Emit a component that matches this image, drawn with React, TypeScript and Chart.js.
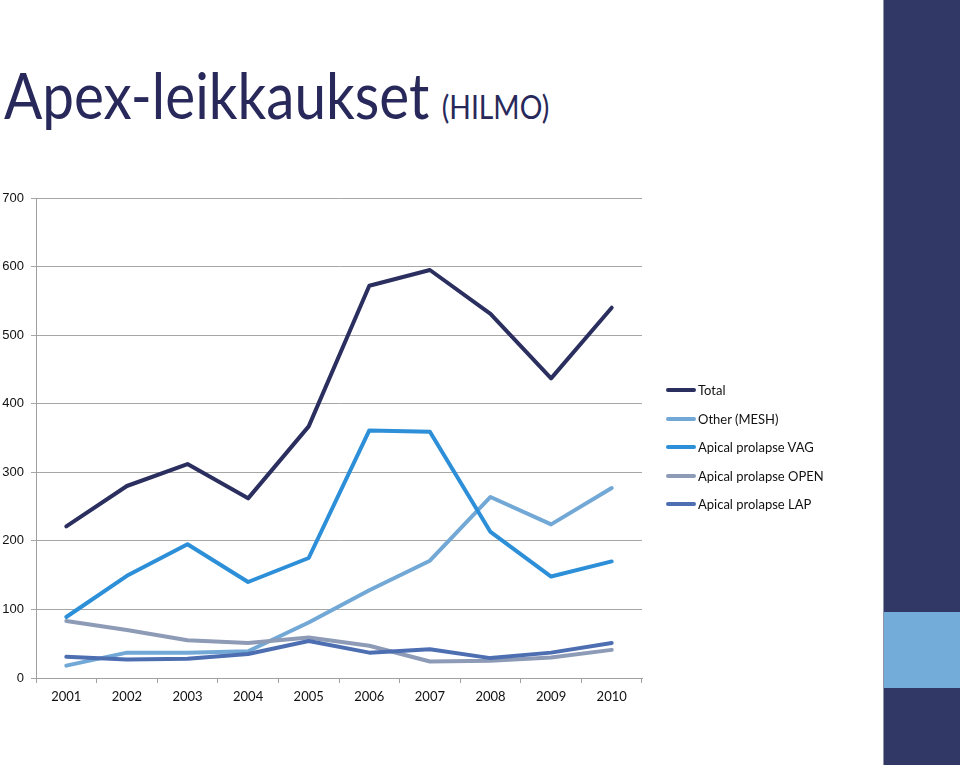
import React, { useEffect, useRef } from "react";
import { Chart, registerables } from "chart.js";

Chart.register(...registerables);

const years = ["2001", "2002", "2003", "2004", "2005", "2006", "2007", "2008", "2009", "2010"];
const total = [221, 280, 312, 262, 367, 572, 595, 531, 437, 540];
const otherMesh = [18, 37, 37, 39, 81, 128, 171, 264, 224, 277];
const apicalVag = [89, 149, 195, 140, 175, 361, 359, 213, 148, 170];
const apicalOpen = [83, 70, 55, 51, 59, 47, 24, 25, 30, 41];
const apicalLap = [31, 27, 28, 35, 54, 37, 42, 29, 37, 51];

const seriesNames = ["Total", "Other (MESH)", "Apical prolapse VAG", "Apical prolapse OPEN", "Apical prolapse LAP"];
const seriesColors = ["#2b2f5f", "#72a8d6", "#2c8fd8", "#8d9bb7", "#4d6fb2"];
const seriesData = [total, otherMesh, apicalVag, apicalOpen, apicalLap];

const yMin = 0;
const yMax = 700;
const yStep = 100;

const titleMain = "Apex-leikkaukset";
const titleSub = "(HILMO)";

export default function App() {
  const canvasRef = useRef<HTMLCanvasElement | null>(null);

  useEffect(() => {
    const canvas = canvasRef.current;
    if (!canvas) return;
    const chart = new Chart(canvas, {
      type: "line",
      data: {
        labels: years,
        datasets: seriesData.map((d, i) => ({
          label: seriesNames[i],
          data: d,
          borderColor: seriesColors[i],
          backgroundColor: seriesColors[i],
          borderWidth: 4,
          pointRadius: 0,
          pointHoverRadius: 0,
          tension: 0,
          fill: false,
          borderJoinStyle: "round" as const,
          borderCapStyle: "round" as const,
          order: seriesData.length - i,
        })),
      },
      options: {
        animation: false,
        responsive: false,
        maintainAspectRatio: false,
        devicePixelRatio: 1,
        layout: { padding: { left: 0, top: 198, right: 318, bottom: 0 } },
        plugins: {
          legend: { display: false },
          tooltip: { enabled: false },
        },
        scales: {
          x: {
            type: "category",
            offset: true,
            grid: {
              offset: true,
              drawOnChartArea: false,
              drawTicks: true,
              tickLength: 5,
              color: "#a0a0a0",
            },
            border: { color: "#a0a0a0", width: 1 },
            ticks: {
              color: "#111",
              font: { family: "Lato", size: 13 },
              padding: 6,
              maxRotation: 0,
            },
            afterFit: (s: any) => {
              s.height = 87;
            },
          },
          y: {
            min: yMin,
            max: yMax,
            ticks: {
              stepSize: yStep,
              color: "#111",
              font: { family: "Liberation Sans", size: 13 },
              padding: 7,
            },
            grid: {
              color: "#a6a6a6",
              lineWidth: 1,
              tickLength: 5,
            },
            border: { color: "#a0a0a0", width: 1 },
            afterFit: (s: any) => {
              s.width = 36;
            },
          },
        },
      },
    });
    return () => chart.destroy();
  }, []);

  return (
    <div
      style={{
        position: "absolute",
        left: 0,
        top: 0,
        width: 960,
        height: 765,
        overflow: "hidden",
        background: "#ffffff",
      }}
    >
      <div
        style={{
          position: "absolute",
          left: 4,
          top: 60,
          whiteSpace: "nowrap",
          color: "#28295a",
          fontFamily: "Lato, 'Open Sans', sans-serif",
          lineHeight: "70px",
          transform: "scaleX(0.885)",
          transformOrigin: "0 0",
        }}
      >
        <span style={{ fontSize: 64 }}>{titleMain}</span>
        <span style={{ fontSize: 32, marginLeft: 14 }}>{titleSub}</span>
      </div>
      <canvas
        ref={canvasRef}
        width={960}
        height={765}
        style={{ position: "absolute", left: 0, top: 0, width: 960, height: 765 }}
      />
      <div style={{ position: "absolute", left: 666, top: 376 }}>
        {seriesNames.map((n, i) => (
          <div
            key={n}
            style={{
              display: "flex",
              alignItems: "center",
              height: 28.5,
              fontFamily: "Lato, sans-serif",
              fontSize: 13,
              color: "#111",
              whiteSpace: "nowrap",
            }}
          >
            <div
              style={{
                width: 30,
                height: 4,
                borderRadius: 2,
                background: seriesColors[i],
                marginRight: 2,
              }}
            />
            <span>{n}</span>
          </div>
        ))}
      </div>
      <div
        style={{
          position: "absolute",
          left: 883,
          top: 0,
          width: 1,
          height: 765,
          background: "#8f93a8",
        }}
      />
      <div
        style={{
          position: "absolute",
          left: 884,
          top: 0,
          width: 76,
          height: 765,
          background: "#313866",
        }}
      />
      <div
        style={{
          position: "absolute",
          left: 884,
          top: 612,
          width: 76,
          height: 76,
          background: "#73abd9",
        }}
      />
    </div>
  );
}
